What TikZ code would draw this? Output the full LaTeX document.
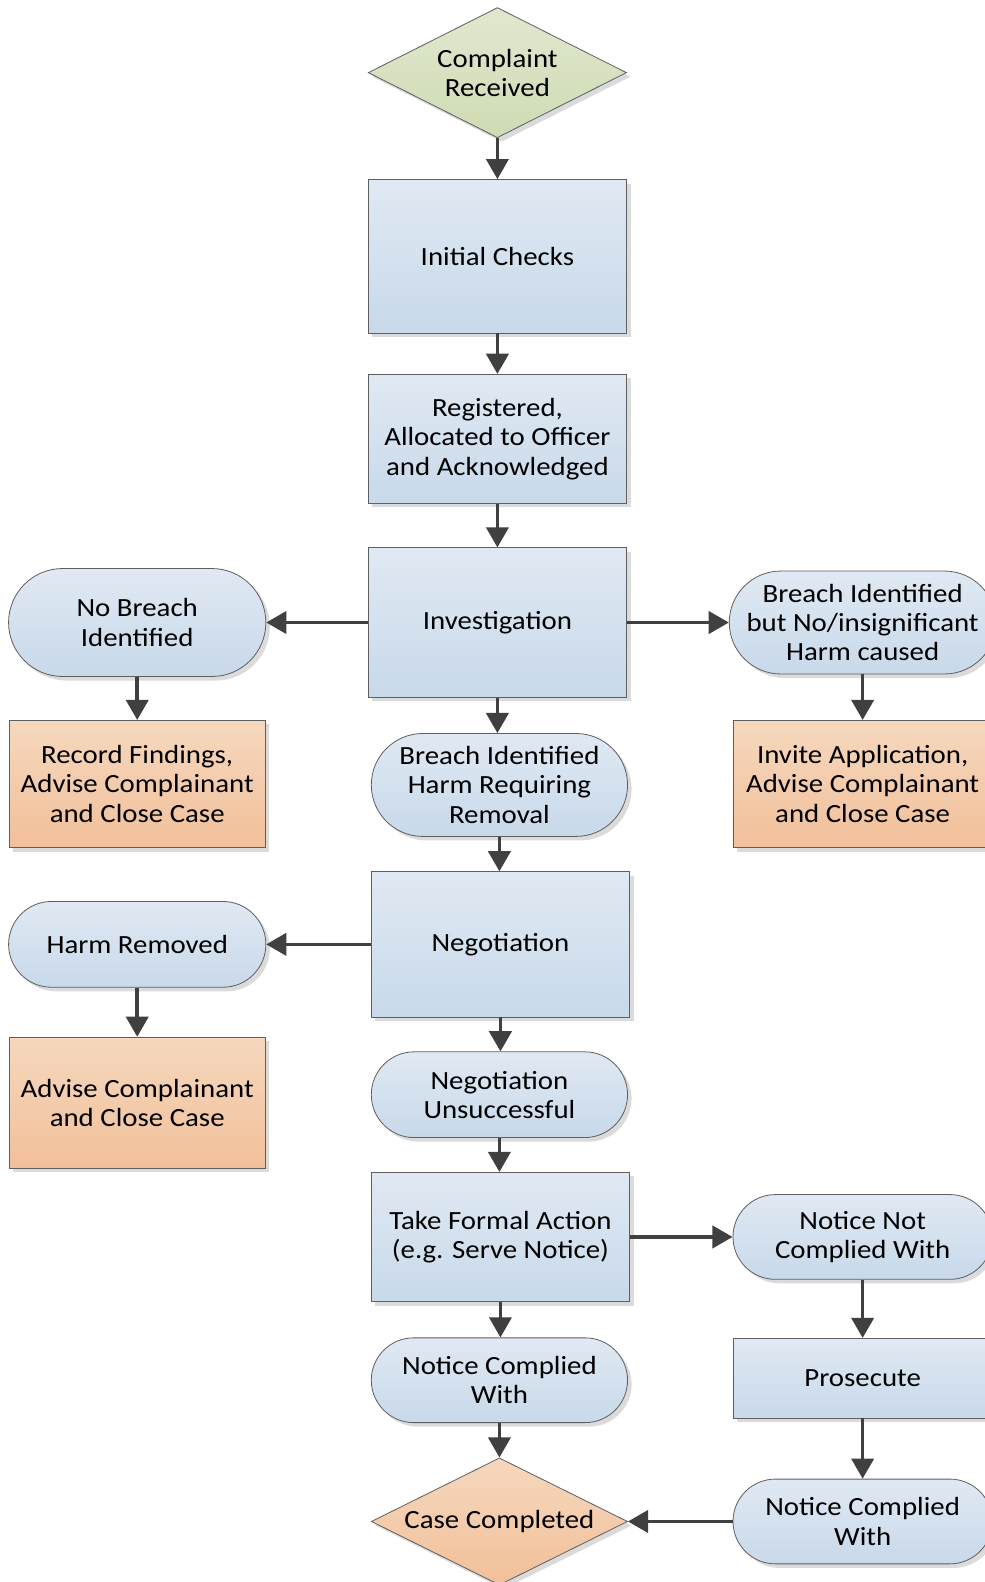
\documentclass[tikz,border=0pt]{standalone}
\usepackage{fontspec}
\setmainfont{Carlito}[FakeStretch=1.1]
\usetikzlibrary{shapes.geometric,shapes.misc,shadows,arrows.meta}
\definecolor{blueT}{HTML}{E0E9F3}
\definecolor{blueB}{HTML}{C8D9EA}
\definecolor{orT}{HTML}{F6D8BE}
\definecolor{orB}{HTML}{F1C09A}
\definecolor{grT}{HTML}{E0E8CF}
\definecolor{grB}{HTML}{CFDBB3}
\definecolor{edge}{HTML}{5F5F5F}
\definecolor{arr}{HTML}{404040}
\tikzset{
  base/.style={draw=edge, line width=0.8pt, align=center, inner sep=0pt,
    font=\fontsize{26}{29}\selectfont,
    drop shadow={shadow xshift=4pt, shadow yshift=-4pt, fill=black!40, opacity=0.35}},
  bluebox/.style={base, rectangle, top color=blueT, bottom color=blueB},
  orbox/.style={base, rectangle, top color=orT, bottom color=orB},
  pill/.style={base, rounded rectangle, top color=blueT, bottom color=blueB},
  gdia/.style={base, diamond, aspect=2, top color=grT, bottom color=grB},
  odia/.style={base, diamond, aspect=2, top color=orT, bottom color=orB},
  conn/.style={draw=arr, line width=3.5pt, -{Triangle[length=20pt,width=22pt]}}
}
\begin{document}
\begin{tikzpicture}[x=1pt,y=-1pt]
\useasboundingbox[fill=white] (0,0) rectangle (976,1568);

\node[gdia, minimum width=256pt, minimum height=129pt] (cr) at (493,72) {Complaint\\Received};
\node[bluebox, minimum width=256pt, minimum height=152pt] (ic) at (493,254) {Initial Checks};
\node[bluebox, minimum width=256pt, minimum height=128pt] (reg) at (493,435) {Registered,\\Allocated to Officer\\and Acknowledged};
\node[bluebox, minimum width=256pt, minimum height=148pt] (inv) at (493,617) {Investigation};
\node[pill, minimum width=255pt, minimum height=107pt] (nob) at (136,617) {No Breach\\Identified};
\node[pill, minimum width=257pt, minimum height=102pt] (bnh) at (855,617) {Breach Identified\\but No/insignificant\\Harm caused};
\node[orbox, minimum width=254pt, minimum height=126pt] (rec) at (136,777) {Record Findings,\\Advise Complainant\\and Close Case};
\node[pill, minimum width=254pt, minimum height=102pt] (bhr) at (495,778) {Breach Identified\\Harm Requiring\\Removal};
\node[orbox, minimum width=257pt, minimum height=126pt] (inva) at (855,777) {Invite Application,\\Advise Complainant\\and Close Case};
\node[bluebox, minimum width=256pt, minimum height=144pt] (neg) at (496,936) {Negotiation};
\node[pill, minimum width=255pt, minimum height=85pt] (hr) at (136,936) {Harm Removed};
\node[orbox, minimum width=254pt, minimum height=130pt] (adv) at (136,1093) {Advise Complainant\\and Close Case};
\node[pill, minimum width=254pt, minimum height=85pt] (nu) at (495,1085) {Negotiation\\Unsuccessful};
\node[bluebox, minimum width=256pt, minimum height=128pt] (tfa) at (496,1226) {Take Formal Action\\(e.g. Serve Notice)};
\node[pill, minimum width=257pt, minimum height=84pt] (nnc) at (855,1226) {Notice Not\\Complied With};
\node[bluebox, minimum width=257pt, minimum height=79pt] (pro) at (855,1366) {Prosecute};
\node[pill, minimum width=254pt, minimum height=84pt] (ncw1) at (495,1368) {Notice Complied\\With};
\node[odia, minimum width=254pt, minimum height=126pt] (cc) at (495,1508) {Case Completed};
\node[pill, minimum width=257pt, minimum height=84pt] (ncw2) at (855,1508) {Notice Complied\\With};

\draw[conn] (cr.south) -- (ic.north);
\draw[conn] (ic.south) -- (reg.north);
\draw[conn] (reg.south) -- (inv.north);
\draw[conn] (inv.west) -- (nob.east);
\draw[conn] (inv.east) -- (bnh.west);
\draw[conn] (inv.south) -- (inv.south |- bhr.north);
\draw[conn] (nob.south) -- (rec.north);
\draw[conn] (bnh.south) -- (inva.north);
\draw[conn] (bhr.south) -- (bhr.south |- neg.north);
\draw[conn] (neg.west) -- (hr.east);
\draw[conn] (hr.south) -- (adv.north);
\draw[conn] (neg.south) -- (neg.south |- nu.north);
\draw[conn] (nu.south) -- (nu.south |- tfa.north);
\draw[conn] (tfa.east) -- (nnc.west);
\draw[conn] (tfa.south) -- (tfa.south |- ncw1.north);
\draw[conn] (nnc.south) -- (pro.north);
\draw[conn] (pro.south) -- (ncw2.north);
\draw[conn] (ncw1.south) -- (cc.north);
\draw[conn] (ncw2.west) -- (cc.east);
\end{tikzpicture}
\end{document}
